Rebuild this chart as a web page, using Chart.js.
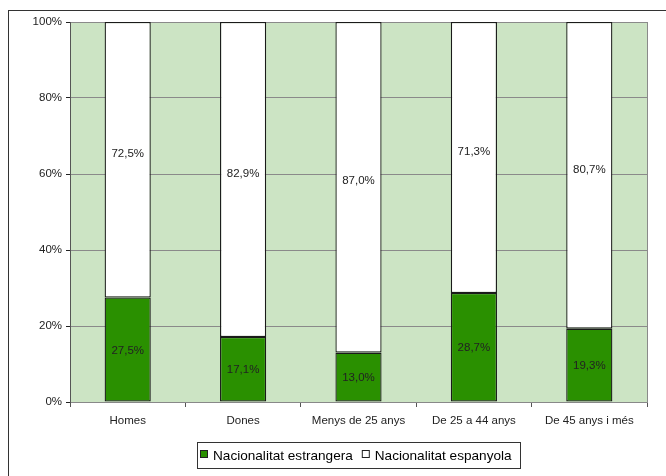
<!DOCTYPE html>
<html><head><meta charset="utf-8">
<script src="https://cdn.jsdelivr.net/npm/chart.js@4"></script>
<style>
html,body{margin:0;padding:0;background:#fff;}
#wrap{position:relative;width:666px;height:476px;overflow:hidden;}
#frame{position:absolute;left:8px;top:10px;width:800px;height:600px;border:1px solid #333;pointer-events:none;box-sizing:border-box;}
canvas{position:absolute;left:0;top:0;}
</style></head>
<body><div id="wrap"><canvas id="c" width="666" height="476"></canvas><div id="frame"></div></div>
<script>
const categories = ["Homes","Dones","Menys de 25 anys","De 25 a 44 anys","De 45 anys i més"];
const estrangera = [27.5,17.1,13.0,28.7,19.3];
const espanyola = [72.5,82.9,87.0,71.3,80.7];
const seriesNames = ["Nacionalitat estrangera","Nacionalitat espanyola"];
const yTicks = [0,20,40,60,80,100];

const FONT = "'Liberation Sans', Arial, sans-serif";
const labelShift = [1, -6];

const bgPlugin = {
  id:'bg',
  beforeDraw(chart){
    const {ctx, chartArea:a} = chart;
    ctx.save();
    ctx.fillStyle = '#CCE4C4';
    ctx.fillRect(a.left, a.top, a.right-a.left, a.bottom-a.top);
    ctx.restore();
  },
  afterDatasetsDraw(chart){
    const {ctx, chartArea:a} = chart;
    ctx.save();
    ctx.strokeStyle = '#8a8a8a';
    ctx.lineWidth = 1;
    ctx.beginPath();
    ctx.moveTo(Math.round(a.right)+0.5, a.top);
    ctx.lineTo(Math.round(a.right)+0.5, a.bottom);
    ctx.stroke();
    // value labels
    ctx.fillStyle = '#222';
    ctx.font = '11.5px ' + FONT;
    ctx.textAlign = 'center';
    ctx.textBaseline = 'middle';
    chart.data.datasets.forEach((ds, i) => {
      const meta = chart.getDatasetMeta(i);
      meta.data.forEach((bar, j) => {
        const v = ds.data[j];
        const y = (bar.y + bar.base) / 2 + labelShift[i];
        ctx.fillText(v.toFixed(1).replace('.', ',') + '%', bar.x, y);
      });
    });
    // legend (drawn manually, centred on plot area)
    ctx.font = '13.6px ' + FONT;
    const ds = chart.data.datasets;
    const sq = 7, gap = 6, between = 9, padL = 3, padR = 8;
    const widths = ds.map(d => ctx.measureText(d.label).width);
    let total = padL + padR;
    widths.forEach((w, i) => { total += sq + gap + w + (i < widths.length - 1 ? between : 0); });
    const cx = (a.left + a.right) / 2;
    const bx = Math.round(cx - total / 2);
    const by = 442, bh = 26;
    ctx.fillStyle = '#fff';
    ctx.fillRect(bx, by, total, bh);
    ctx.strokeStyle = '#333';
    ctx.lineWidth = 1;
    ctx.strokeRect(bx + 0.5, by + 0.5, Math.round(total), bh);
    let x = bx + padL;
    const midY = by + bh / 2 + 1;
    ds.forEach((d, i) => {
      ctx.fillStyle = d.backgroundColor;
      ctx.fillRect(x, midY - 6, sq + 1, sq + 1);
      ctx.strokeStyle = '#222';
      ctx.strokeRect(x + 0.5, midY - 6 + 0.5, sq, sq);
      x += sq + gap;
      ctx.fillStyle = '#000';
      ctx.textAlign = 'left';
      ctx.textBaseline = 'middle';
      ctx.fillText(d.label, x, midY);
      x += widths[i] + between;
    });
    ctx.restore();
  }
};

new Chart(document.getElementById('c'), {
  type:'bar',
  data:{
    labels: categories,
    datasets:[
      {label: seriesNames[0], data: estrangera, backgroundColor:'#2A9000', borderColor:'#1a1a1a', borderWidth:1.3, borderSkipped:false},
      {label: seriesNames[1], data: espanyola, backgroundColor:'#FFFFFF', borderColor:'#1a1a1a', borderWidth:1.3, borderSkipped:false}
    ]
  },
  options:{
    responsive:false,
    animation:false,
    devicePixelRatio:1,
    layout:{padding:{left:0,right:19,top:22,bottom:34}},
    datasets:{bar:{categoryPercentage:1, barPercentage:0.4}},
    plugins:{
      tooltip:{enabled:false},
      legend:{display:false}
    },
    scales:{
      x:{
        stacked:true,
        offset:true,
        grid:{offset:true, drawOnChartArea:false, drawTicks:true, tickLength:5, color:'#555'},
        border:{color:'#888', width:1},
        ticks:{font:{family:FONT,size:11.5}, color:'#222', padding:7, maxRotation:0, autoSkip:false},
        afterFit(s){ s.height = 40; }
      },
      y:{
        stacked:true,
        min:0, max:100,
        afterBuildTicks(s){ s.ticks = yTicks.map(v=>({value:v})); },
        grid:{color:'#8a8a8a', tickLength:4, tickColor:'#222'},
        border:{color:'#555', width:1},
        ticks:{font:{family:FONT,size:11.5}, color:'#222', padding:4, callback:v=>v+'%'},
        afterFit(s){ s.width = 70; }
      }
    }
  },
  plugins:[bgPlugin]
});
</script></body></html>
